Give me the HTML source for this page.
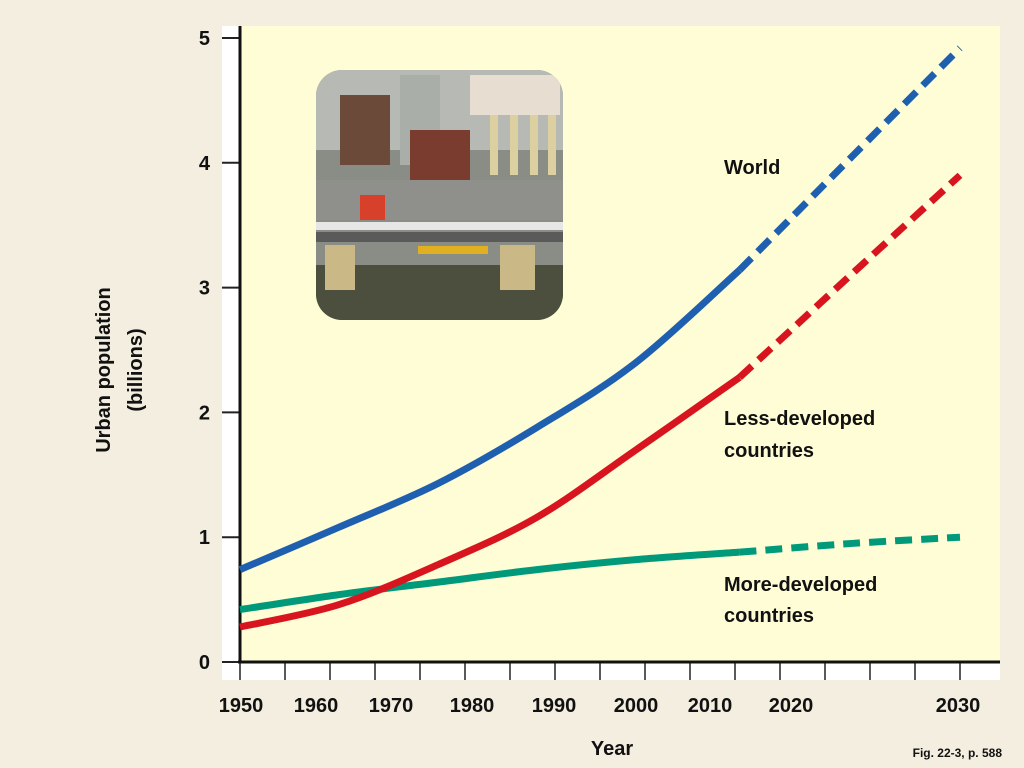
<!DOCTYPE html>
<html><head><meta charset="utf-8"><style>
body{margin:0;background:#f3eee0;}
svg{display:block;font-family:"Liberation Sans",sans-serif;}
</style></head><body>
<svg id="c" width="1024" height="768">
<rect x="0" y="0" width="1024" height="768" fill="#f3eee0"/>
<rect x="222" y="26" width="778" height="654" fill="#ffffff"/>
<rect x="240" y="26" width="760" height="636" fill="#fffdd6"/>
<g>
<clipPath id="cp"><rect x="316" y="70" width="247" height="250" rx="26"/></clipPath>
<g clip-path="url(#cp)">
<rect x="316" y="70" width="247" height="250" fill="#8a8c86"/>
<rect x="316" y="70" width="247" height="80" fill="#b7b9b4"/>
<rect x="340" y="95" width="50" height="70" fill="#6b4a3a"/>
<rect x="400" y="75" width="40" height="90" fill="#a9aea9"/>
<rect x="410" y="130" width="60" height="50" fill="#7a3c2e"/>
<rect x="470" y="75" width="90" height="40" fill="#e7ddd1"/>
<rect x="490" y="115" width="8" height="60" fill="#ddd0a0"/>
<rect x="510" y="115" width="8" height="60" fill="#ddd0a0"/>
<rect x="530" y="115" width="8" height="60" fill="#ddd0a0"/>
<rect x="548" y="115" width="8" height="60" fill="#ddd0a0"/>
<rect x="316" y="180" width="247" height="40" fill="#8f8f8b"/>
<rect x="360" y="195" width="25" height="25" fill="#d7412c"/>
<rect x="316" y="222" width="247" height="8" fill="#e6e6e6"/>
<rect x="316" y="232" width="247" height="10" fill="#5a5a5a"/>
<rect x="418" y="246" width="70" height="8" fill="#e0b020"/>
<rect x="316" y="265" width="247" height="55" fill="#4c4f3e"/>
<rect x="325" y="245" width="30" height="45" fill="#cbb887"/>
<rect x="500" y="245" width="35" height="45" fill="#cbb887"/>
</g></g>
<g id="axes"></g>
<g id="series"></g>
<text x="724" y="174" font-size="20" font-weight="bold" fill="#111">World</text>
<text x="724" y="425" font-size="20" font-weight="bold" fill="#111">Less-developed</text>
<text x="724" y="457" font-size="20" font-weight="bold" fill="#111">countries</text>
<text x="724" y="591" font-size="20" font-weight="bold" fill="#111">More-developed</text>
<text x="724" y="622" font-size="20" font-weight="bold" fill="#111">countries</text>
<g transform="translate(110,370) rotate(-90)">
<text x="0" y="0" text-anchor="middle" font-size="20" font-weight="bold" fill="#111">Urban population</text>
<text x="0" y="32" text-anchor="middle" font-size="20" font-weight="bold" fill="#111">(billions)</text>
</g>
<text x="612" y="755" text-anchor="middle" font-size="20" font-weight="bold" fill="#111">Year</text>
<text x="1002" y="757" text-anchor="end" font-size="12" font-weight="bold" fill="#111">Fig. 22-3, p. 588</text>
</svg>
<script>
const years=[1950,1961,1972,1983,1994,2005.5];
const projYears=[2005.5,2018,2030];
const world=[0.74,1.08,1.43,1.88,2.40,3.14];
const worldProj=[3.14,4.05,4.92];
const less=[0.28,0.46,0.78,1.16,1.70,2.28];
const lessProj=[2.28,3.11,3.9];
const more=[0.42,0.54,0.64,0.74,0.82,0.88];
const moreProj=[0.88,0.95,1.0];
const yTicks=[0,1,2,3,4,5];
const xLabels=["1950","1960","1970","1980","1990","2000","2010","2020","2030"];
const NS="http://www.w3.org/2000/svg";
const x=v=>240+(v-1950)*9;
const y=v=>662-v*124.8;
const axes=document.getElementById('axes'),ser=document.getElementById('series');
function mk(t,a,p){const e=document.createElementNS(NS,t);for(const k in a)e.setAttribute(k,a[k]);p.appendChild(e);return e;}
yTicks.forEach(v=>{
 const l=mk('line',{x1:222,x2:240,y1:y(v),y2:y(v),stroke:'#222','stroke-width':2},axes);
 
 
 const t=mk('text',{x:210,y:y(v)+7,'text-anchor':'end','font-size':20,'font-weight':'bold',fill:'#111'},axes);
 t.textContent=v;
 
 
});
for(let yr=1950;yr<=2030;yr+=5){
 const l=mk('line',{x1:x(yr),x2:x(yr),y1:662,y2:680,stroke:'#222','stroke-width':1.5},axes);
 
 
}
const labelOffsets=[0,75,150,231,313,395,469,550,717];
xLabels.forEach((s,i)=>{
 const t=mk('text',{x:241+labelOffsets[i],y:712,'text-anchor':'middle','font-size':20,'font-weight':'bold',fill:'#111'},axes);
 t.textContent=s;
 
 
});
const ya=mk('line',{x1:240,x2:240,y1:26,y2:663,stroke:'#111','stroke-width':3},axes);


const xa=mk('line',{x1:238,x2:1000,y1:662,y2:662,stroke:'#111','stroke-width':3},axes);


function path(xs,vs){
 const p=xs.map((d,i)=>[x(d),y(vs[i])]);
 let s='M'+p[0][0]+','+p[0][1];
 for(let i=0;i<p.length-1;i++){
  const p0=p[i-1]||p[i],p1=p[i],p2=p[i+1],p3=p[i+2]||p2;
  const c1=[p1[0]+(p2[0]-p0[0])/6,p1[1]+(p2[1]-p0[1])/6],c2=[p2[0]-(p3[0]-p1[0])/6,p2[1]-(p3[1]-p1[1])/6];
  s+=' C'+c1+' '+c2+' '+p2;
 }
 return s;
}
function line(xs,vs,col,dash,name){
 const a={d:path(xs,vs),fill:'none',stroke:col,'stroke-width':7};
 if(dash)a['stroke-dasharray']='17,9';
 const e=mk('path',a,ser);
 
 
}
line(years,more,'#009a7a',false,'more-developed-line');
line(projYears,moreProj,'#009a7a',true,'more-developed-projection');
line(years,less,'#d8141f',false,'less-developed-line');
line(projYears,lessProj,'#d8141f',true,'less-developed-projection');
line(years,world,'#1f5fb0',false,'world-line');
line(projYears,worldProj,'#1f5fb0',true,'world-projection');
</script>
</body></html>
